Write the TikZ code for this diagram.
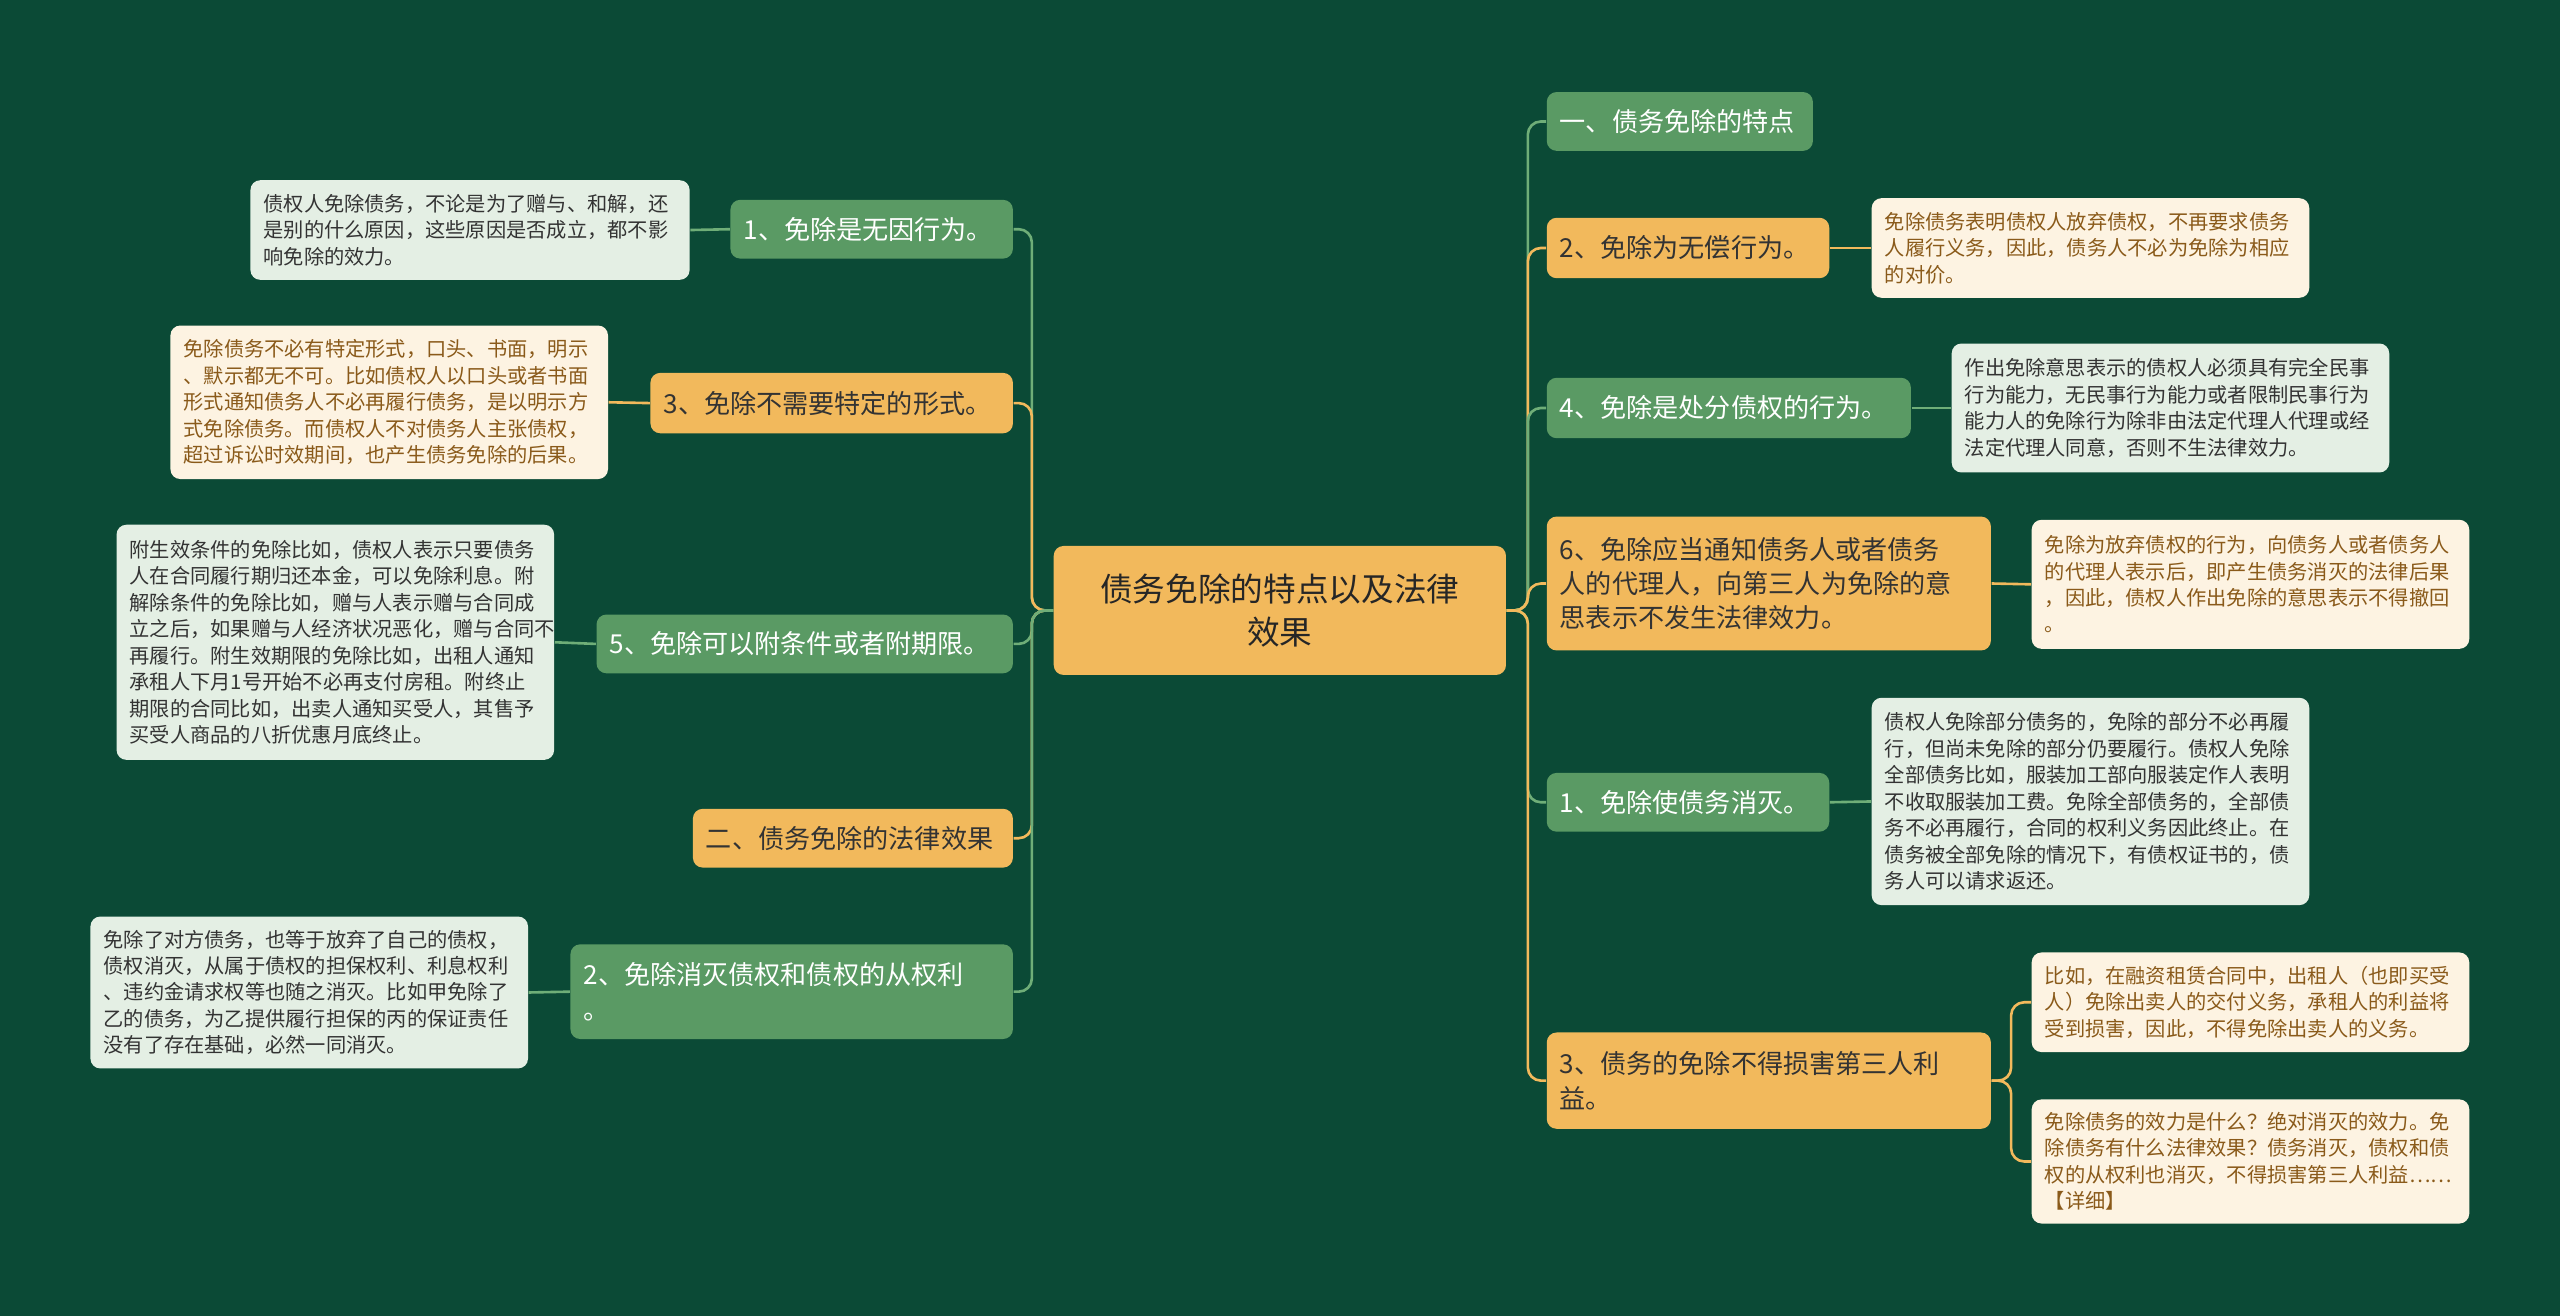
\documentclass[tikz,border=0pt]{standalone}
\usepackage{fontspec}
\setmainfont{Noto Sans CJK SC}
\definecolor{bg}{HTML}{0B4A36}
\definecolor{gn}{HTML}{5A9A64}
\definecolor{gl}{HTML}{6FAE78}
\definecolor{og}{HTML}{F2B95C}
\definecolor{nt}{HTML}{E4EFE4}
\definecolor{cr}{HTML}{FDF3E2}
\definecolor{brn}{HTML}{8A5A1A}
\tikzset{
 base/.style={rounded corners=3pt, inner xsep=4pt, inner ysep=2pt, align=left, anchor=north west},
 gbox/.style={base, fill=gn, text=white, font=\fontsize{8}{10.5}\selectfont},
 obox/.style={base, fill=og, text=black!80, font=\fontsize{8}{10.5}\selectfont},
 gnote/.style={base, fill=nt, text=black!80, font=\fontsize{6.2}{8.1}\selectfont},
 cnote/.style={base, fill=cr, text=brn, font=\fontsize{6.2}{8.1}\selectfont},
 gline/.style={draw=gl, line width=0.8pt, rounded corners=4pt},
 oline/.style={draw=og, line width=0.8pt, rounded corners=4pt},
}
\newcommand{\bx}[7]{\node[#2, minimum width={(#5-#3)*0.5pt}, minimum height={(#6-#4)*0.5pt}, text width={(#5-#3)*0.5pt-8pt}] (#1) at (#3,#4) {#7};}
\begin{document}
\begin{tikzpicture}[x=0.5pt,y=-0.5pt]
\fill[bg] (0,0) rectangle (1568,806);
\useasboundingbox (0,0) rectangle (1568,806);
% center
\node[base, fill=og, text=black!85, font=\fontsize{10}{13}\selectfont, align=center, minimum width=138.5pt, minimum height=39.5pt, text width=130pt] (c) at (645,334) {债务免除的特点以及法律\\效果};
% left nodes
\bx{l1}{gbox}{447}{122}{620}{158}{1、免除是无因行为。}
\bx{l3}{obox}{398}{228}{620}{265}{3、免除不需要特定的形式。}
\bx{l5}{gbox}{365}{376}{620}{412}{5、免除可以附条件或者附期限。}
\bx{l6}{obox}{424}{495}{620}{531}{二、债务免除的法律效果}
\bx{l2}{gbox}{349}{578}{620}{636}{2、免除消灭债权和债权的从权利\\。}
% left notes
\bx{nl1}{gnote}{153}{110}{422}{171}{债权人免除债务，不论是为了赠与、和解，还\\是别的什么原因，这些原因是否成立，都不影\\响免除的效力。}
\bx{nl3}{cnote}{104}{199}{372}{293}{免除债务不必有特定形式，口头、书面，明示\\、默示都无不可。比如债权人以口头或者书面\\形式通知债务人不必再履行债务，是以明示方\\式免除债务。而债权人不对债务人主张债权，\\超过诉讼时效期间，也产生债务免除的后果。}
\bx{nl5}{gnote}{71}{321}{339}{465}{附生效条件的免除比如，债权人表示只要债务\\人在合同履行期归还本金，可以免除利息。附\\解除条件的免除比如，赠与人表示赠与合同成\\立之后，如果赠与人经济状况恶化，赠与合同不\\再履行。附生效期限的免除比如，出租人通知\\承租人下月1号开始不必再支付房租。附终止\\期限的合同比如，出卖人通知买受人，其售予\\买受人商品的八折优惠月底终止。}
\bx{nl2}{gnote}{55}{561}{323}{654}{免除了对方债务，也等于放弃了自己的债权，\\债权消灭，从属于债权的担保权利、利息权利\\、违约金请求权等也随之消灭。比如甲免除了\\乙的债务，为乙提供履行担保的丙的保证责任\\没有了存在基础，必然一同消灭。}
% right nodes
\bx{r0}{gbox}{947}{56}{1110}{92}{一、债务免除的特点}
\bx{r2}{obox}{947}{133}{1120}{170}{2、免除为无偿行为。}
\bx{r4}{gbox}{947}{231}{1170}{268}{4、免除是处分债权的行为。}
\bx{r6}{obox}{947}{316}{1219}{398}{6、免除应当通知债务人或者债务\\人的代理人，向第三人为免除的意\\思表示不发生法律效力。}
\bx{r1}{gbox}{947}{473}{1120}{509}{1、免除使债务消灭。}
\bx{r3}{obox}{947}{632}{1219}{691}{3、债务的免除不得损害第三人利\\益。}
% right notes
\bx{nr2}{cnote}{1146}{121}{1414}{182}{免除债务表明债权人放弃债权，不再要求债务\\人履行义务，因此，债务人不必为免除为相应\\的对价。}
\bx{nr4}{gnote}{1195}{210}{1463}{289}{作出免除意思表示的债权人必须具有完全民事\\行为能力，无民事行为能力或者限制民事行为\\能力人的免除行为除非由法定代理人代理或经\\法定代理人同意，否则不生法律效力。}
\bx{nr6}{cnote}{1244}{318}{1512}{397}{免除为放弃债权的行为，向债务人或者债务人\\的代理人表示后，即产生债务消灭的法律后果\\，因此，债权人作出免除的意思表示不得撤回\\。}
\bx{nr1}{gnote}{1146}{427}{1414}{554}{债权人免除部分债务的，免除的部分不必再履\\行，但尚未免除的部分仍要履行。债权人免除\\全部债务比如，服装加工部向服装定作人表明\\不收取服装加工费。免除全部债务的，全部债\\务不必再履行，合同的权利义务因此终止。在\\债务被全部免除的情况下，有债权证书的，债\\务人可以请求返还。}
\bx{nr3a}{cnote}{1244}{583}{1512}{644}{比如，在融资租赁合同中，出租人（也即买受\\人）免除出卖人的交付义务，承租人的利益将\\受到损害，因此，不得免除出卖人的义务。}
\bx{nr3b}{cnote}{1244}{673}{1512}{749}{免除债务的效力是什么？绝对消灭的效力。免\\除债务有什么法律效果？债务消灭，债权和债\\权的从权利也消灭，不得损害第三人利益……\\【详细】}
% trunk connectors
\draw[gline] (c.west) -- ++(-13,0) |- (l1.east);
\draw[oline] (c.west) -- ++(-13,0) |- (l3.east);
\draw[gline] (c.west) -- ++(-13,0) |- (l5.east);
\draw[oline] (c.west) -- ++(-13,0) |- (l6.east);
\draw[gline] (c.west) -- ++(-13,0) |- (l2.east);
\draw[gline] (c.east) -- ++(13,0) |- (r0.west);
\draw[oline] (c.east) -- ++(13,0) |- (r2.west);
\draw[gline] (c.east) -- ++(13,0) |- (r4.west);
\draw[oline] (c.east) -- ++(13,0) |- (r6.west);
\draw[gline] (c.east) -- ++(13,0) |- (r1.west);
\draw[oline] (c.east) -- ++(13,0) |- (r3.west);
% notes
\draw[gline] (l1.west) -- (nl1.east);
\draw[oline] (l3.west) -- (nl3.east);
\draw[gline] (l5.west) -- (nl5.east);
\draw[gline] (l2.west) -- (nl2.east);
\draw[oline] (r2.east) -- (nr2.west);
\draw[gline] (r4.east) -- (nr4.west);
\draw[oline] (r6.east) -- (nr6.west);
\draw[gline] (r1.east) -- (nr1.west);
\draw[oline] (r3.east) -- ++(12,0) |- (nr3a.west);
\draw[oline] (r3.east) -- ++(12,0) |- (nr3b.west);
\end{tikzpicture}
\end{document}
